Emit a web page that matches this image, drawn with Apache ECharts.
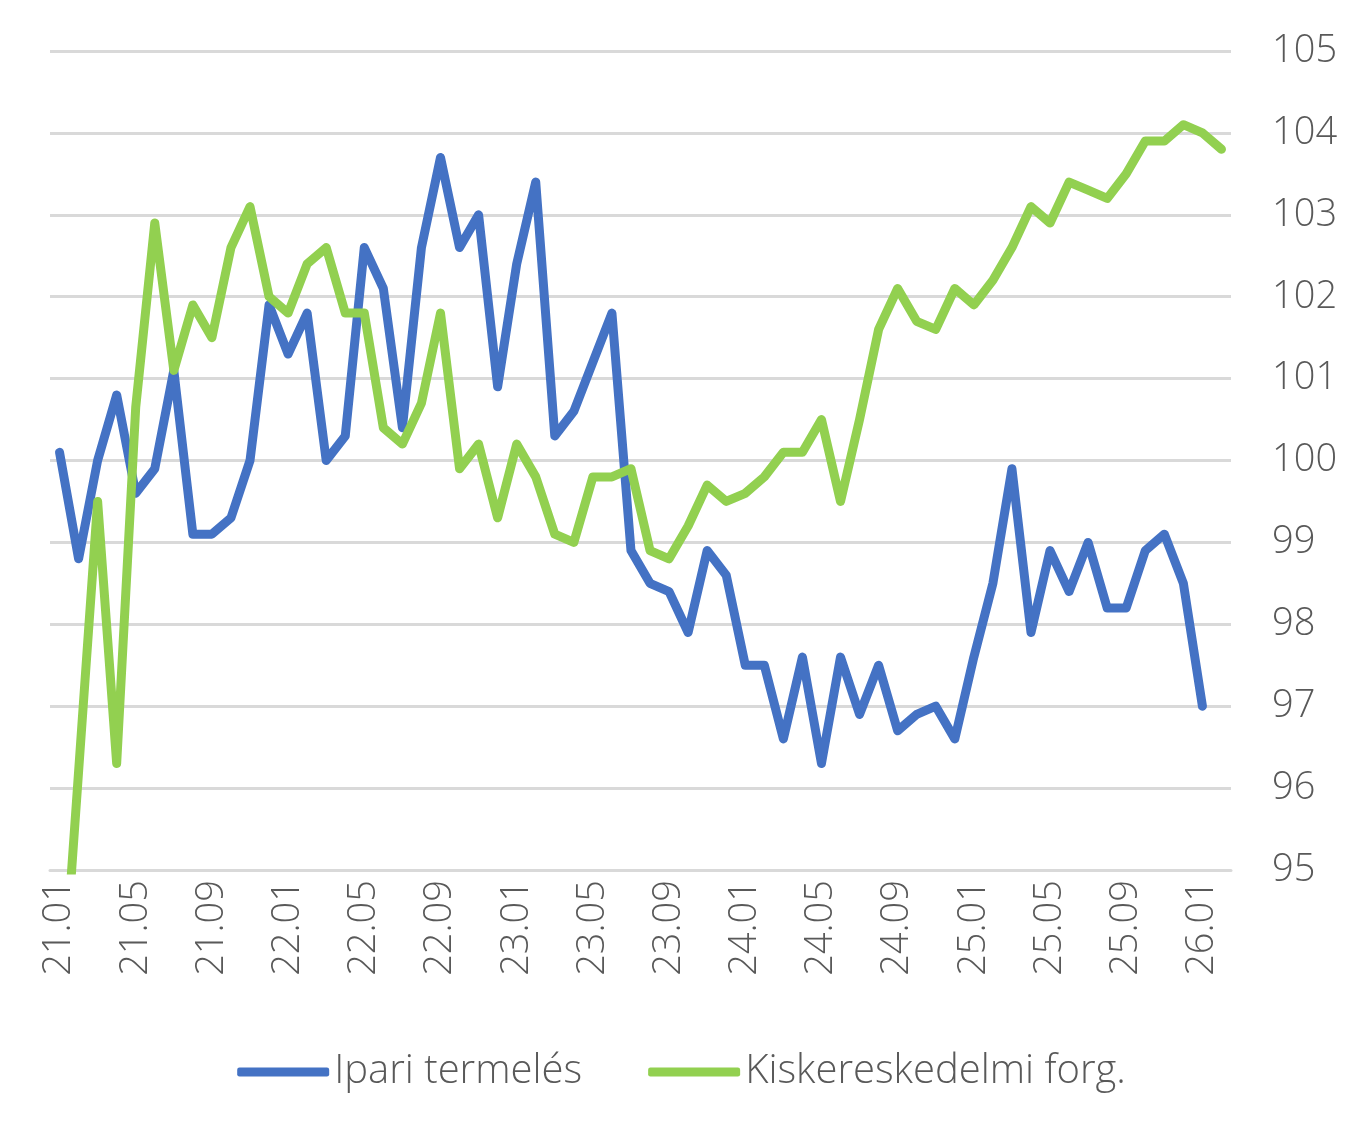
<!DOCTYPE html>
<html>
<head>
<meta charset="utf-8">
<script src="https://cdn.jsdelivr.net/npm/echarts@6/dist/echarts.min.js"></script>
<style>
html, body { margin: 0; padding: 0; background: #fff; }
#main { width: 1363px; height: 1141px; }
</style>
</head>
<body>
<div id="main"></div>
<script>
var months = ['21.01','21.02','21.03','21.04','21.05','21.06','21.07','21.08','21.09','21.10','21.11','21.12',
    '22.01','22.02','22.03','22.04','22.05','22.06','22.07','22.08','22.09','22.10','22.11','22.12',
    '23.01','23.02','23.03','23.04','23.05','23.06','23.07','23.08','23.09','23.10','23.11','23.12',
    '24.01','24.02','24.03','24.04','24.05','24.06','24.07','24.08','24.09','24.10','24.11','24.12',
    '25.01','25.02','25.03','25.04','25.05','25.06','25.07','25.08','25.09','25.10','25.11','25.12',
    '26.01','26.02'];
// Ipari termelés
var ipari = [100.1, 98.8, 100.0, 100.8, 99.6, 99.9, 101.1, 99.1, 99.1, 99.3, 100.0, 101.9,
    101.3, 101.8, 100.0, 100.3, 102.6, 102.1, 100.4, 102.6, 103.7, 102.6, 103.0, 100.9,
    102.4, 103.4, 100.3, 100.6, 101.2, 101.8, 98.9, 98.5, 98.4, 97.9, 98.9, 98.6,
    97.5, 97.5, 96.6, 97.6, 96.3, 97.6, 96.9, 97.5, 96.7, 96.9, 97.0, 96.6,
    97.6, 98.5, 99.9, 97.9, 98.9, 98.4, 99.0, 98.2, 98.2, 98.9, 99.1, 98.5,
    97.0, null];
// Kiskereskedelmi forgalom
var kisker = [92.9, 96.2, 99.5, 96.3, 100.65, 102.9, 101.1, 101.9, 101.5, 102.6, 103.1, 102.0,
    101.8, 102.4, 102.6, 101.8, 101.8, 100.4, 100.2, 100.7, 101.8, 99.9, 100.2, 99.3,
    100.2, 99.8, 99.1, 99.0, 99.8, 99.8, 99.9, 98.9, 98.8, 99.2, 99.7, 99.5,
    99.6, 99.8, 100.1, 100.1, 100.5, 99.5, 100.5, 101.6, 102.1, 101.7, 101.6, 102.1,
    101.9, 102.2, 102.6, 103.1, 102.9, 103.4, 103.3, 103.2, 103.5, 103.9, 103.9, 104.1,
    104.0, 103.8];

var chart = echarts.init(document.getElementById('main'));
var txtColor = '#595959';
var fontName = 'Open Sans';
var option = {
    backgroundColor: '#fff',
    animation: false,
    grid: {
        left: 50,
        right: 132,
        top: 51,
        bottom: 271,
        containLabel: false
    },
    legend: {
        bottom: 44,
        left: 'center',
        icon: 'roundRect',
        itemWidth: 92,
        itemHeight: 9,
        itemGap: 66,
        textStyle: {
            color: txtColor,
            fontSize: 40,
            fontWeight: 300,
            fontFamily: fontName
        },
        data: ['Ipari termelés', 'Kiskereskedelmi forg.']
    },
    xAxis: {
        type: 'category',
        boundaryGap: true,
        data: months,
        axisTick: { show: false },
        axisLine: {
            show: true,
            lineStyle: { color: '#d9d9d9', width: 3 }
        },
        axisLabel: {
            interval: 3,
            rotate: 90,
            margin: 10,
            color: txtColor,
            fontSize: 38,
            fontWeight: 300,
            fontFamily: fontName
        }
    },
    yAxis: {
        type: 'value',
        position: 'right',
        min: 95,
        max: 105,
        interval: 1,
        axisLine: { show: false },
        axisTick: { show: false },
        axisLabel: {
            margin: 41,
            align: 'left',
            color: txtColor,
            fontSize: 38,
            fontWeight: 300,
            fontFamily: fontName
        },
        splitLine: {
            lineStyle: { color: '#d9d9d9', width: 3 }
        }
    },
    series: [
        {
            name: 'Ipari termelés',
            type: 'line',
            data: ipari,
            symbol: 'none',
            clip: true,
            lineStyle: { color: '#4472C4', width: 9, cap: 'round', join: 'round' },
            itemStyle: { color: '#4472C4' }
        },
        {
            name: 'Kiskereskedelmi forg.',
            type: 'line',
            data: kisker,
            symbol: 'none',
            clip: true,
            lineStyle: { color: '#92D050', width: 9, cap: 'round', join: 'round' },
            itemStyle: { color: '#92D050' }
        }
    ]
};
chart.setOption(option);
</script>
</body>
</html>
